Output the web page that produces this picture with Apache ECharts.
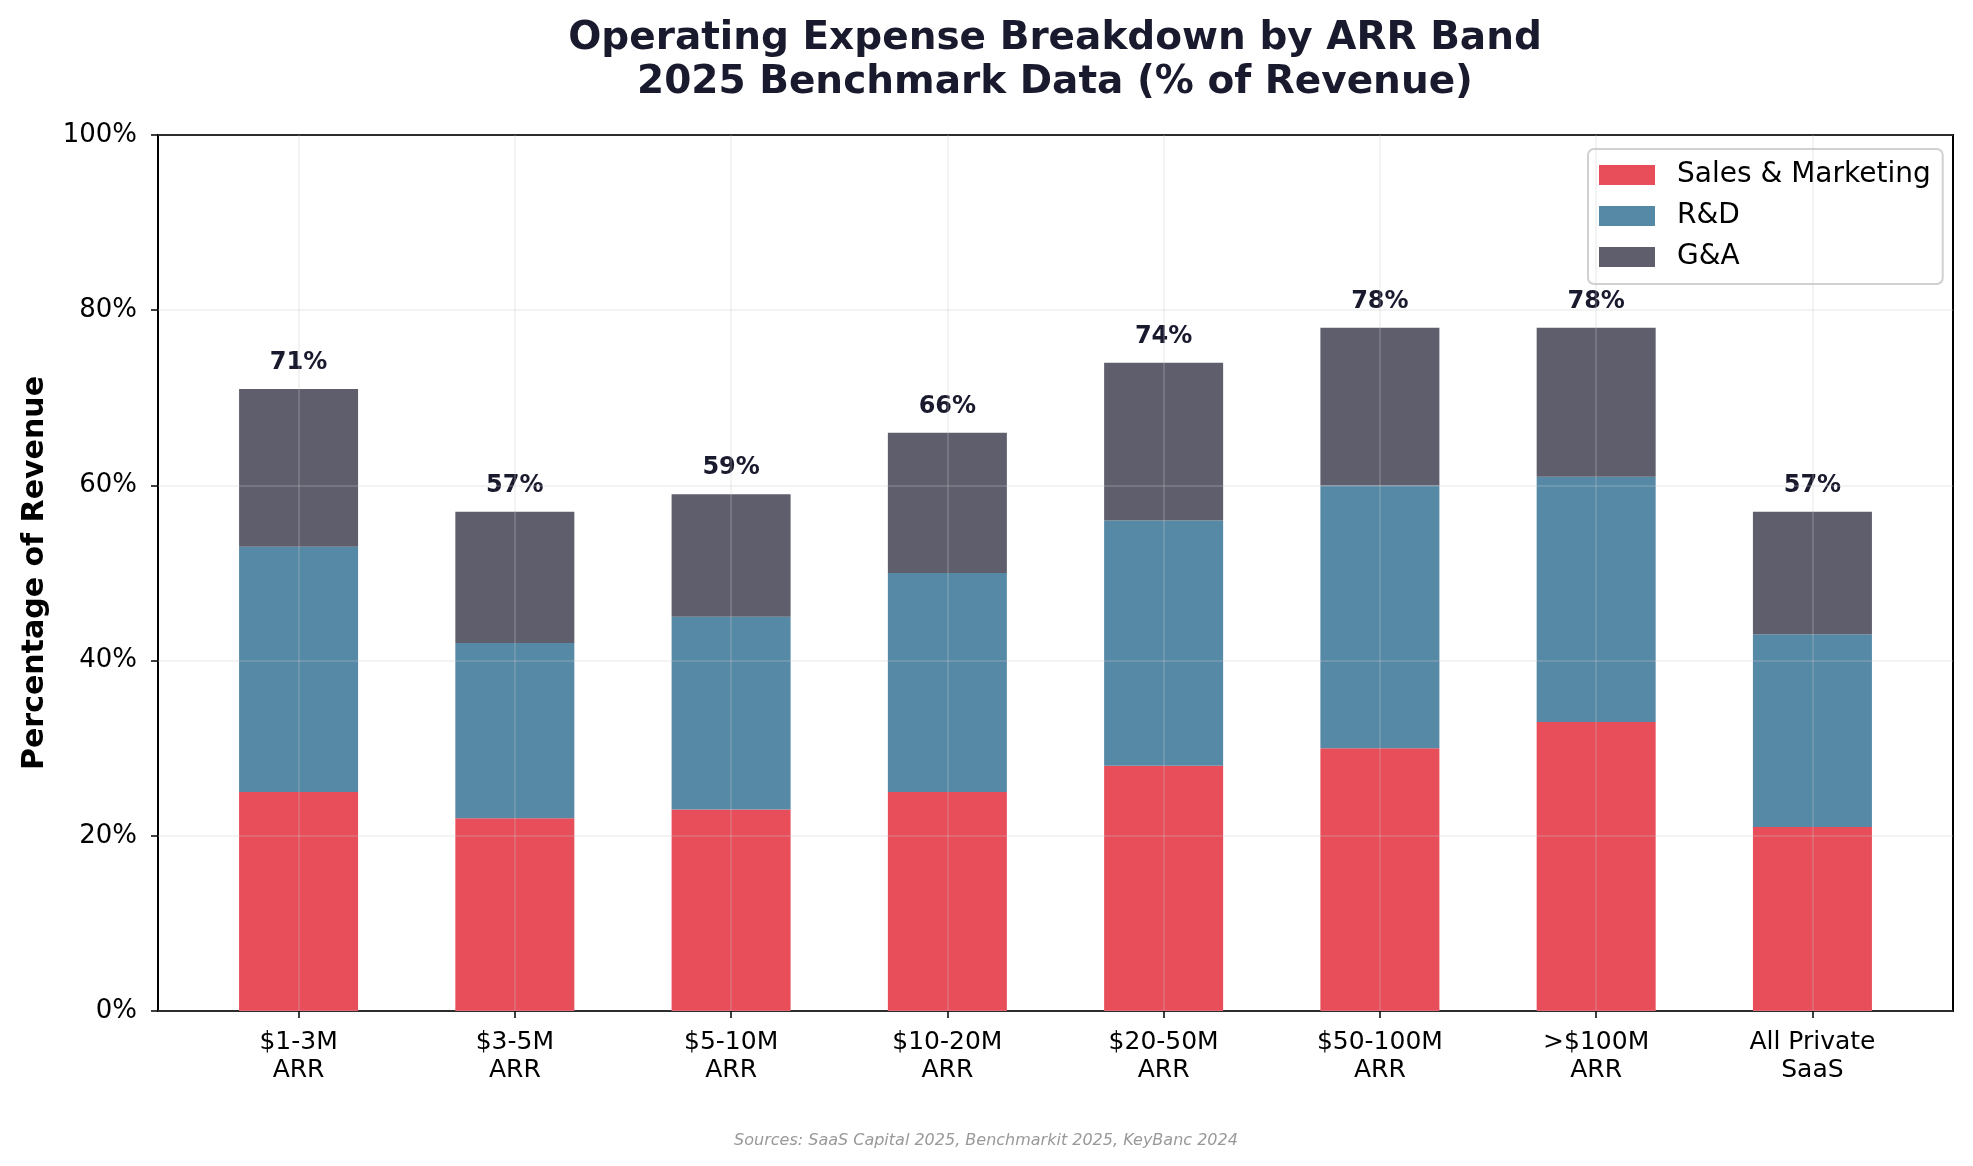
<!DOCTYPE html>
<html>
<head>
<meta charset="utf-8">
<script src="https://cdn.jsdelivr.net/npm/echarts@6/dist/echarts.min.js"></script>
<style>html,body{margin:0;padding:0;background:#fff}#c{width:1973px;height:1166px}</style>
</head>
<body>
<div id="c"></div>
<script>
const categories = ['$1-3M\nARR', '$3-5M\nARR', '$5-10M\nARR', '$10-20M\nARR', '$20-50M\nARR', '$50-100M\nARR', '>$100M\nARR', 'All Private\nSaaS'];
const salesMarketing = [25, 22, 23, 25, 28, 30, 33, 21];
const rnd = [28, 20, 22, 25, 28, 30, 28, 22];
const gna = [18, 15, 14, 16, 18, 18, 17, 14];
const yTicks = [0, 20, 40, 60, 80, 100];

const totals = categories.map((_, i) => salesMarketing[i] + rnd[i] + gna[i]);
const FONT = 'DejaVu Sans';
const gridLineColor = 'rgba(200,200,205,0.3)';

const chart = echarts.init(document.getElementById('c'), null, {renderer: 'canvas'});

// category band width: frame width / 8.3 (matplotlib-style margins)
const frameL = 158, frameR = 1953;
const band = (frameR - frameL) / 8.3;

const barCommon = {
  type: 'bar', stack: 'total', xAxisIndex: 1, yAxisIndex: 1,
  barWidth: 119
};

chart.setOption({
  backgroundColor: '#ffffff',
  animation: false,
  textStyle: {fontFamily: FONT},
  grid: [
    {left: frameL, right: 1973 - frameR, top: 135, bottom: 155, show: true, borderColor: '#000', borderWidth: 2, backgroundColor: 'transparent'},
    {left: frameL + 0.15 * band, right: 1973 - (frameR - 0.15 * band), top: 135, bottom: 155},
    {left: frameL + 0.65 * band, right: 1973 - (frameR - 0.65 * band), top: 135, bottom: 155}
  ],
  xAxis: [
    {type: 'value', gridIndex: 0, min: 0, max: 1, show: false},
    {type: 'category', gridIndex: 1, data: categories, show: false},
    {type: 'value', gridIndex: 2, min: 0, max: 7, interval: 1, z: 10,
      axisLine: {show: false},
      axisTick: {show: true, length: 7, lineStyle: {color: '#000', width: 1.5}},
      axisLabel: {margin: 17, fontSize: 25, lineHeight: 28, color: '#000', fontFamily: FONT,
        formatter: v => categories[v] !== undefined ? categories[v] : ''},
      splitLine: {show: true, lineStyle: {color: gridLineColor, width: 1.5}}
    }
  ],
  yAxis: [
    {type: 'value', gridIndex: 0, min: 0, max: 100, interval: 20, z: 10,
      name: 'Percentage of Revenue', nameLocation: 'middle', nameGap: 108,
      nameTextStyle: {fontSize: 30, fontWeight: 'bold', color: '#000', fontFamily: FONT},
      axisLine: {show: false},
      axisTick: {show: true, length: 7, lineStyle: {color: '#000', width: 1.5}},
      axisLabel: {margin: 21, fontSize: 26, color: '#000', fontFamily: FONT,
        formatter: v => yTicks.includes(v) ? v + '%' : ''},
      splitLine: {show: true, lineStyle: {color: gridLineColor, width: 1.5}}
    },
    {type: 'value', gridIndex: 1, min: 0, max: 100, show: false},
    {type: 'value', gridIndex: 2, min: 0, max: 100, show: false}
  ],
  legend: {
    orient: 'vertical', left: 1588, top: 149,
    itemWidth: 56, itemHeight: 20, itemGap: 13,
    padding: [12, 12, 13, 11],
    backgroundColor: '#fff', borderColor: '#d0d0d0', borderWidth: 2, borderRadius: 6,
    icon: 'rect',
    textStyle: {fontSize: 28, color: '#000', fontFamily: FONT, padding: [0, 0, 0, 17]},
    data: ['Sales & Marketing', 'R&D', 'G&A']
  },
  series: [
    Object.assign({}, barCommon, {name: 'Sales & Marketing', data: salesMarketing, itemStyle: {color: '#E84D5A'}}),
    Object.assign({}, barCommon, {name: 'R&D', data: rnd, itemStyle: {color: '#5689A6'}}),
    Object.assign({}, barCommon, {name: 'G&A', data: gna, itemStyle: {color: '#5F5E6C'},
      label: {show: true, position: 'top', distance: 14, fontSize: 24, fontWeight: 'bold', color: '#1A1A2E', fontFamily: FONT,
        formatter: p => totals[p.dataIndex] + '%'}})
  ],
  graphic: [
    {type: 'text', x: 1055, y: 17, style: {text: 'Operating Expense Breakdown by ARR Band\n2025 Benchmark Data (% of Revenue)',
      fontSize: 39, lineHeight: 44, fontWeight: 'bold', fill: '#1A1A2E', textAlign: 'center', textVerticalAlign: 'top', fontFamily: FONT}},
    {type: 'text', x: 986, y: 1141, style: {text: 'Sources: SaaS Capital 2025, Benchmarkit 2025, KeyBanc 2024',
      fontSize: 16, fontStyle: 'italic', fill: '#999999', textAlign: 'center', textVerticalAlign: 'middle', fontFamily: FONT}}
  ]
});
</script>
</body>
</html>
